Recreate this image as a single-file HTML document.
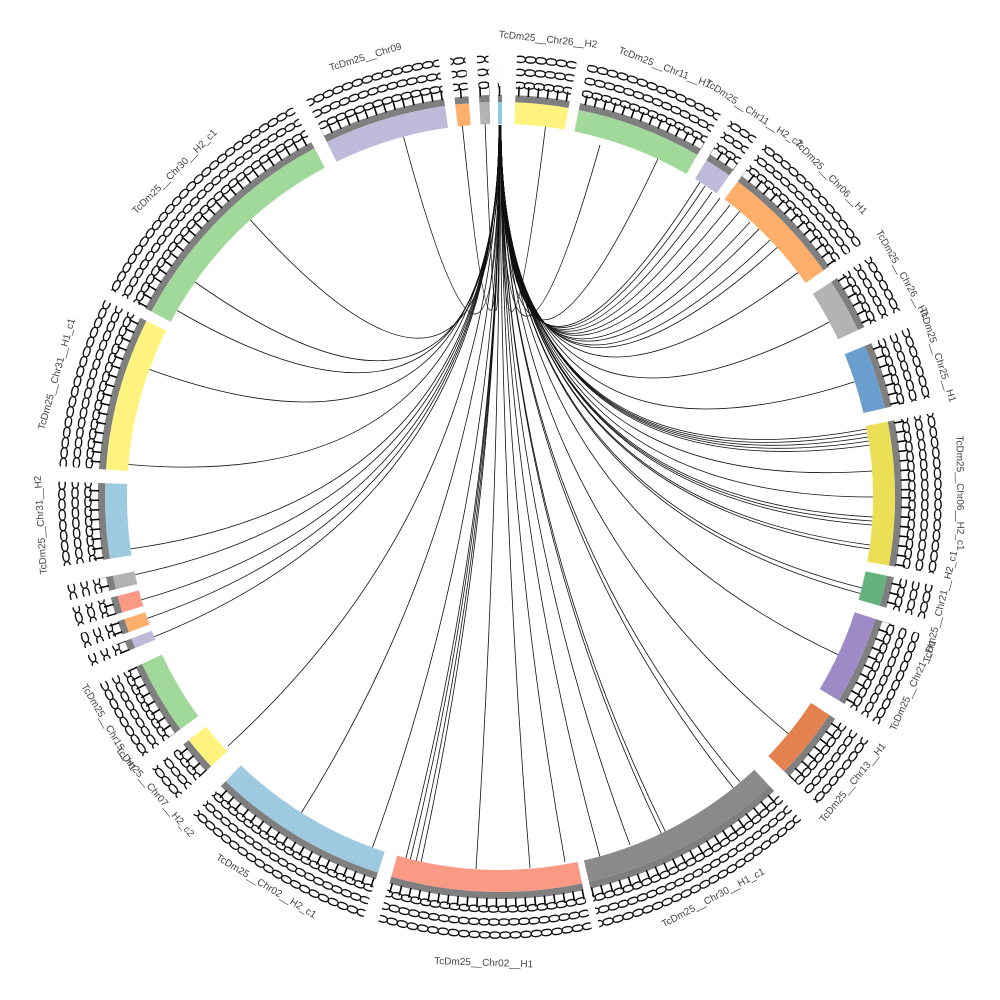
<!DOCTYPE html>
<html><head><meta charset="utf-8"><style>
html,body{margin:0;padding:0;background:#fff;width:1000px;height:1000px;overflow:hidden;}
svg{display:block;}
.s{fill:none;stroke-width:22;stroke-dasharray:var(--d);}
.b{fill:none;stroke:#7f7f7f;stroke-width:7;stroke-dasharray:var(--d);}
.m{fill:none;stroke:#fff;stroke-width:60;stroke-dasharray:var(--d);}
.lab{font-family:"Liberation Sans",sans-serif;font-size:10px;fill:#444;}
.num{font-family:"Liberation Sans",sans-serif;font-size:16px;fill:#111;}
.lk{fill:none;stroke:#111;stroke-width:0.8;}
</style></head><body>
<svg width="1000" height="1000" viewBox="0 0 1000 1000" xmlns="http://www.w3.org/2000/svg">
<defs>
<mask id="mk" maskUnits="userSpaceOnUse" x="0" y="0" width="1000" height="1000">
<rect x="0" y="0" width="1000" height="1000" fill="#000"/>
<g>
<circle class="m" transform="rotate(244 500 497)" style="--d:18 999" cx="500" cy="497" r="420" pathLength="360"/>
<circle class="m" transform="rotate(263.5 500 497)" style="--d:2 999" cx="500" cy="497" r="420" pathLength="360"/>
<circle class="m" transform="rotate(267 500 497)" style="--d:1.5 999" cx="500" cy="497" r="420" pathLength="360"/>
<circle class="m" transform="rotate(269.7 500 497)" style="--d:0.6 999" cx="500" cy="497" r="420" pathLength="360"/>
<circle class="m" transform="rotate(-87.8 500 497)" style="--d:7.8 999" cx="500" cy="497" r="420" pathLength="360"/>
<circle class="m" transform="rotate(-78.5 500 497)" style="--d:18.5 999" cx="500" cy="497" r="420" pathLength="360"/>
<circle class="m" transform="rotate(-58.5 500 497)" style="--d:4 999" cx="500" cy="497" r="420" pathLength="360"/>
<circle class="m" transform="rotate(-53 500 497)" style="--d:18 999" cx="500" cy="497" r="420" pathLength="360"/>
<circle class="m" transform="rotate(-33 500 497)" style="--d:8 999" cx="500" cy="497" r="420" pathLength="360"/>
<circle class="m" transform="rotate(-22.5 500 497)" style="--d:9.5 999" cx="500" cy="497" r="420" pathLength="360"/>
<circle class="m" transform="rotate(-11 500 497)" style="--d:21 999" cx="500" cy="497" r="420" pathLength="360"/>
<circle class="m" transform="rotate(11.5 500 497)" style="--d:4.5 999" cx="500" cy="497" r="420" pathLength="360"/>
<circle class="m" transform="rotate(18 500 497)" style="--d:13 999" cx="500" cy="497" r="420" pathLength="360"/>
<circle class="m" transform="rotate(33.5 500 497)" style="--d:10.5 999" cx="500" cy="497" r="420" pathLength="360"/>
<circle class="m" transform="rotate(47 500 497)" style="--d:30 999" cx="500" cy="497" r="420" pathLength="360"/>
<circle class="m" transform="rotate(78 500 497)" style="--d:28 999" cx="500" cy="497" r="420" pathLength="360"/>
<circle class="m" transform="rotate(108 500 497)" style="--d:26 999" cx="500" cy="497" r="420" pathLength="360"/>
<circle class="m" transform="rotate(137 500 497)" style="--d:5 999" cx="500" cy="497" r="420" pathLength="360"/>
<circle class="m" transform="rotate(144 500 497)" style="--d:11 999" cx="500" cy="497" r="420" pathLength="360"/>
<circle class="m" transform="rotate(157.5 500 497)" style="--d:1.5 999" cx="500" cy="497" r="420" pathLength="360"/>
<circle class="m" transform="rotate(160 500 497)" style="--d:2 999" cx="500" cy="497" r="420" pathLength="360"/>
<circle class="m" transform="rotate(163 500 497)" style="--d:2.5 999" cx="500" cy="497" r="420" pathLength="360"/>
<circle class="m" transform="rotate(166.5 500 497)" style="--d:2 999" cx="500" cy="497" r="420" pathLength="360"/>
<circle class="m" transform="rotate(171 500 497)" style="--d:11 999" cx="500" cy="497" r="420" pathLength="360"/>
<circle class="m" transform="rotate(184 500 497)" style="--d:22.5 999" cx="500" cy="497" r="420" pathLength="360"/>
<circle class="m" transform="rotate(208 500 497)" style="--d:34 999" cx="500" cy="497" r="420" pathLength="360"/>
</g>
</mask>
<path id="r1" d="M500,85 A412,412 0 0,1 500,909 A412,412 0 0,1 500,85"/>
<path id="r2" d="M500,72 A425,425 0 0,1 500,922 A425,425 0 0,1 500,72"/>
<path id="r3" d="M500,59 A438,438 0 0,1 500,935 A438,438 0 0,1 500,59"/>
</defs>

<g>
<path class="lk" d="M500,125 Q500,497 250.4,219.9"/>
<path class="lk" d="M499,125 Q500,497 149.4,369.4"/>
<path class="lk" d="M499,125 Q500,497 128.5,464.5" stroke="#345"/>
<path class="lk" d="M499,125 Q500,497 130.6,548.9" stroke="#6b3a2a"/>
<path class="lk" d="M499,125 Q500,497 135.2,574.6"/>
<path class="lk" d="M499,125 Q500,497 141.5,599.8" stroke="#3d5a70"/>
<path class="lk" d="M499,125 Q500,497 147.2,618.4"/>
<path class="lk" d="M499,125 Q500,497 154.2,636.8" stroke="#5a3020"/>
<path class="lk" d="M499,125 Q500,497 228,746"/>
<path class="lk" d="M500,125 Q500,497 300,815"/>
<path class="lk" d="M500,125 Q500,497 372.4,847.6"/>
<path class="lk" d="M500,125 Q500,497 405,862" stroke="#6b5a20"/>
<path class="lk" d="M500,125 Q500,497 410,861"/>
<path class="lk" d="M500,125 Q500,497 416,862" stroke="#4a3a20"/>
<path class="lk" d="M500,125 Q500,497 421,863"/>
<path class="lk" d="M500,125 Q500,497 476,869" stroke="#6b3a2a"/>
<path class="lk" d="M500,125 Q500,497 530,868"/>
<path class="lk" d="M501,125 Q500,497 565,862" stroke="#8a7a20"/>
<path class="lk" d="M501,125 Q500,497 600,857" stroke="#6b5a20"/>
<path class="lk" d="M501,125 Q500,497 630,845"/>
<path class="lk" d="M501,125 Q500,497 662,835"/>
<path class="lk" d="M501,125 Q500,497 666,833"/>
<path class="lk" d="M501,125 Q500,497 740,782" stroke="#8a8a20"/>
<path class="lk" d="M501,125 Q500,497 735,790" stroke="#4a4a20"/>
<path class="lk" d="M501,125 Q500,497 790,735"/>
<path class="lk" d="M501,125 Q500,497 838,654.6"/>
<path class="lk" d="M501,125 Q500,497 860.3,593.5" stroke="#3d5a70"/>
<path class="lk" d="M501,125 Q500,497 862,588"/>
<path class="lk" d="M501,125 Q500,497 869.4,548.9"/>
<path class="lk" d="M501,125 Q500,497 870,545"/>
<path class="lk" d="M501,125 Q500,497 872,525" stroke="#6b3a2a"/>
<path class="lk" d="M501,125 Q500,497 872,521"/>
<path class="lk" d="M501,125 Q500,497 873,517" stroke="#4a4a20"/>
<path class="lk" d="M501,125 Q500,497 873,497"/>
<path class="lk" d="M501,125 Q500,497 872.1,471"/>
<path class="lk" d="M501,125 Q500,497 869.4,445.1"/>
<path class="lk" d="M501,125 Q500,497 869,441"/>
<path class="lk" d="M501,125 Q500,497 868,437" stroke="#6b3a2a"/>
<path class="lk" d="M501,125 Q500,497 866.8,429"/>
<path class="lk" d="M501,125 Q500,497 867,433"/>
<path class="lk" d="M501,125 Q500,497 854.7,381.7"/>
<path class="lk" d="M501,125 Q500,497 829.4,322"/>
<path class="lk" d="M501,125 Q500,497 798,272.5"/>
<path class="lk" d="M501,125 Q500,497 777.2,247.4"/>
<path class="lk" d="M501,125 Q500,497 770,240"/>
<path class="lk" d="M501,125 Q500,497 759.2,228.8" stroke="#3d5a70"/>
<path class="lk" d="M501,125 Q500,497 750,222"/>
<path class="lk" d="M501,125 Q500,497 739.8,211.3"/>
<path class="lk" d="M501,125 Q500,497 730,205" stroke="#4a4a20"/>
<path class="lk" d="M501,125 Q500,497 720,198"/>
<path class="lk" d="M501,125 Q500,497 712,192"/>
<path class="lk" d="M501,125 Q500,497 705,186"/>
<path class="lk" d="M501,125 Q500,497 700,182"/>
<path class="lk" d="M501,125 Q500,497 657.8,159" stroke="#6b6a20"/>
<path class="lk" d="M501,125 Q500,497 600,145" stroke="#6b6a20"/>
<path class="lk" d="M501,125 Q500,497 545.5,126.6" stroke="#3d5a70"/>
<path class="lk" d="M499,125 Q500,497 403.5,136.7"/>
<path class="lk" d="M499,125 Q500,497 462,122" stroke="#3d5a70"/>
<path class="lk" d="M499,125 Q500,497 485,122" stroke="#4a4a20"/>
<path class="lk" d="M499,125 Q500,497 177,310.5"/>
<path class="lk" d="M499,125 Q500,497 195,282"/>
</g>

<g>
<g transform="rotate(244 500 497)" style="--d:18 999"><circle class="s" stroke="#bebada" cx="500" cy="497" r="384" pathLength="360"/><circle class="b" cx="500" cy="497" r="398.5" pathLength="360"/></g>
<g transform="rotate(263.5 500 497)" style="--d:2 999"><circle class="s" stroke="#fdb06e" cx="500" cy="497" r="384" pathLength="360"/><circle class="b" cx="500" cy="497" r="398.5" pathLength="360"/></g>
<g transform="rotate(267 500 497)" style="--d:1.5 999"><circle class="s" stroke="#b3b3b3" cx="500" cy="497" r="384" pathLength="360"/><circle class="b" cx="500" cy="497" r="398.5" pathLength="360"/></g>
<g transform="rotate(269.7 500 497)" style="--d:0.6 999"><circle class="s" stroke="#8ec9e0" cx="500" cy="497" r="384" pathLength="360"/><circle class="b" cx="500" cy="497" r="398.5" pathLength="360"/></g>
<g transform="rotate(-87.8 500 497)" style="--d:7.8 999"><circle class="s" stroke="#fff380" cx="500" cy="497" r="384" pathLength="360"/><circle class="b" cx="500" cy="497" r="398.5" pathLength="360"/></g>
<g transform="rotate(-78.5 500 497)" style="--d:18.5 999"><circle class="s" stroke="#a1d99b" cx="500" cy="497" r="384" pathLength="360"/><circle class="b" cx="500" cy="497" r="398.5" pathLength="360"/></g>
<g transform="rotate(-58.5 500 497)" style="--d:4 999"><circle class="s" stroke="#bebada" cx="500" cy="497" r="384" pathLength="360"/><circle class="b" cx="500" cy="497" r="398.5" pathLength="360"/></g>
<g transform="rotate(-53 500 497)" style="--d:18 999"><circle class="s" stroke="#fdae6b" cx="500" cy="497" r="384" pathLength="360"/><circle class="b" cx="500" cy="497" r="398.5" pathLength="360"/></g>
<g transform="rotate(-33 500 497)" style="--d:8 999"><circle class="s" stroke="#b3b3b3" cx="500" cy="497" r="384" pathLength="360"/><circle class="b" cx="500" cy="497" r="398.5" pathLength="360"/></g>
<g transform="rotate(-22.5 500 497)" style="--d:9.5 999"><circle class="s" stroke="#6a9ecf" cx="500" cy="497" r="384" pathLength="360"/><circle class="b" cx="500" cy="497" r="398.5" pathLength="360"/></g>
<g transform="rotate(-11 500 497)" style="--d:21 999"><circle class="s" stroke="#ebdf55" cx="500" cy="497" r="384" pathLength="360"/><circle class="b" cx="500" cy="497" r="398.5" pathLength="360"/></g>
<g transform="rotate(11.5 500 497)" style="--d:4.5 999"><circle class="s" stroke="#66b27e" cx="500" cy="497" r="384" pathLength="360"/><circle class="b" cx="500" cy="497" r="398.5" pathLength="360"/></g>
<g transform="rotate(18 500 497)" style="--d:13 999"><circle class="s" stroke="#9e8ac6" cx="500" cy="497" r="384" pathLength="360"/><circle class="b" cx="500" cy="497" r="398.5" pathLength="360"/></g>
<g transform="rotate(33.5 500 497)" style="--d:10.5 999"><circle class="s" stroke="#e3824f" cx="500" cy="497" r="384" pathLength="360"/><circle class="b" cx="500" cy="497" r="398.5" pathLength="360"/></g>
<g transform="rotate(47 500 497)" style="--d:30 999"><circle class="s" stroke="#8a8a8a" cx="500" cy="497" r="384" pathLength="360"/><circle class="b" cx="500" cy="497" r="398.5" pathLength="360"/></g>
<g transform="rotate(78 500 497)" style="--d:28 999"><circle class="s" stroke="#fb9a84" cx="500" cy="497" r="384" pathLength="360"/><circle class="b" cx="500" cy="497" r="398.5" pathLength="360"/></g>
<g transform="rotate(108 500 497)" style="--d:26 999"><circle class="s" stroke="#9ecae1" cx="500" cy="497" r="384" pathLength="360"/><circle class="b" cx="500" cy="497" r="398.5" pathLength="360"/></g>
<g transform="rotate(137 500 497)" style="--d:5 999"><circle class="s" stroke="#fff380" cx="500" cy="497" r="384" pathLength="360"/><circle class="b" cx="500" cy="497" r="398.5" pathLength="360"/></g>
<g transform="rotate(144 500 497)" style="--d:11 999"><circle class="s" stroke="#a1d99b" cx="500" cy="497" r="384" pathLength="360"/><circle class="b" cx="500" cy="497" r="398.5" pathLength="360"/></g>
<g transform="rotate(157.5 500 497)" style="--d:1.5 999"><circle class="s" stroke="#bebada" cx="500" cy="497" r="384" pathLength="360"/><circle class="b" cx="500" cy="497" r="398.5" pathLength="360"/></g>
<g transform="rotate(160 500 497)" style="--d:2 999"><circle class="s" stroke="#fdae6b" cx="500" cy="497" r="384" pathLength="360"/><circle class="b" cx="500" cy="497" r="398.5" pathLength="360"/></g>
<g transform="rotate(163 500 497)" style="--d:2.5 999"><circle class="s" stroke="#fb9a84" cx="500" cy="497" r="384" pathLength="360"/><circle class="b" cx="500" cy="497" r="398.5" pathLength="360"/></g>
<g transform="rotate(166.5 500 497)" style="--d:2 999"><circle class="s" stroke="#b3b3b3" cx="500" cy="497" r="384" pathLength="360"/><circle class="b" cx="500" cy="497" r="398.5" pathLength="360"/></g>
<g transform="rotate(171 500 497)" style="--d:11 999"><circle class="s" stroke="#9ecae1" cx="500" cy="497" r="384" pathLength="360"/><circle class="b" cx="500" cy="497" r="398.5" pathLength="360"/></g>
<g transform="rotate(184 500 497)" style="--d:22.5 999"><circle class="s" stroke="#fff380" cx="500" cy="497" r="384" pathLength="360"/><circle class="b" cx="500" cy="497" r="398.5" pathLength="360"/></g>
<g transform="rotate(208 500 497)" style="--d:34 999"><circle class="s" stroke="#a1d99b" cx="500" cy="497" r="384" pathLength="360"/><circle class="b" cx="500" cy="497" r="398.5" pathLength="360"/></g>
</g>

<g mask="url(#mk)">
<circle cx="500" cy="497" r="406" fill="none" stroke="#000" stroke-width="10" pathLength="360" stroke-dasharray="0.22 1.15"/>
<text class="num" rotate="90"><textPath href="#r1" textLength="2580" lengthAdjust="spacing">000000000000000000000000000000000000000000000000000000000000000000000000000000000000000000000000000000000000000000000000000000000000000000000000000000000000000000000000000000000000000000000000000000000000000000000000000000000000000000000000000000000000000000000000</textPath></text>
<text class="num" rotate="90"><textPath href="#r2" textLength="2660" lengthAdjust="spacing">000000000000000000000000000000000000000000000000000000000000000000000000000000000000000000000000000000000000000000000000000000000000000000000000000000000000000000000000000000000000000000000000000000000000000000000000000000000000000000000000000000000000000000000000</textPath></text>
<text class="num" rotate="90"><textPath href="#r3" textLength="2740" lengthAdjust="spacing">000000000000000000000000000000000000000000000000000000000000000000000000000000000000000000000000000000000000000000000000000000000000000000000000000000000000000000000000000000000000000000000000000000000000000000000000000000000000000000000000000000000000000000000000</textPath></text>
</g>

<g class="lab" text-anchor="middle">
<text transform="rotate(-17 500 497)" x="500" y="40">TcDm25__Chr09</text>
<text transform="rotate(6 500 497)" x="500" y="40">TcDm25__Chr26__H2</text>
<text transform="rotate(21 500 497)" x="500" y="40">TcDm25__Chr11__H1</text>
<text transform="rotate(33.5 500 497)" x="500" y="40">TcDm25__Chr11__H2_c2</text>
<text transform="rotate(46 500 497)" x="500" y="40">TcDm25__Chr06__H1</text>
<text transform="rotate(61 500 497)" x="500" y="40">TcDm25__Chr26__H1</text>
<text transform="rotate(72 500 497)" x="500" y="40">TcDm25__Chr25__H1</text>
<text transform="rotate(89.5 500 497)" x="500" y="40">TcDm25__Chr06__H2_c1</text>
<text transform="rotate(-76 500 497)" x="500" y="954">TcDm25__Chr21__H2_c1</text>
<text transform="rotate(-65.5 500 497)" x="500" y="954">TcDm25__Chr21__H1</text>
<text transform="rotate(-51 500 497)" x="500" y="954">TcDm25__Chr13__H1</text>
<text transform="rotate(-28 500 497)" x="500" y="954">TcDm25__Chr30__H1_c1</text>
<text transform="rotate(2 500 497)" x="500" y="966">TcDm25__Chr02__H1</text>
<text transform="rotate(31 500 497)" x="500" y="954">TcDm25__Chr02__H2_c1</text>
<text transform="rotate(49.5 500 497)" x="500" y="954">TcDm25__Chr07__H2_c2</text>
<text transform="rotate(59.5 500 497)" x="500" y="954">TcDm25__Chr15__H1</text>
<text transform="rotate(-93.5 500 497)" x="500" y="40">TcDm25__Chr31__H2</text>
<text transform="rotate(-74.5 500 497)" x="500" y="40">TcDm25__Chr31__H1_c1</text>
<text transform="rotate(-45 500 497)" x="500" y="40">TcDm25__Chr30__H2_c1</text>
</g>
</svg>
</body></html>
